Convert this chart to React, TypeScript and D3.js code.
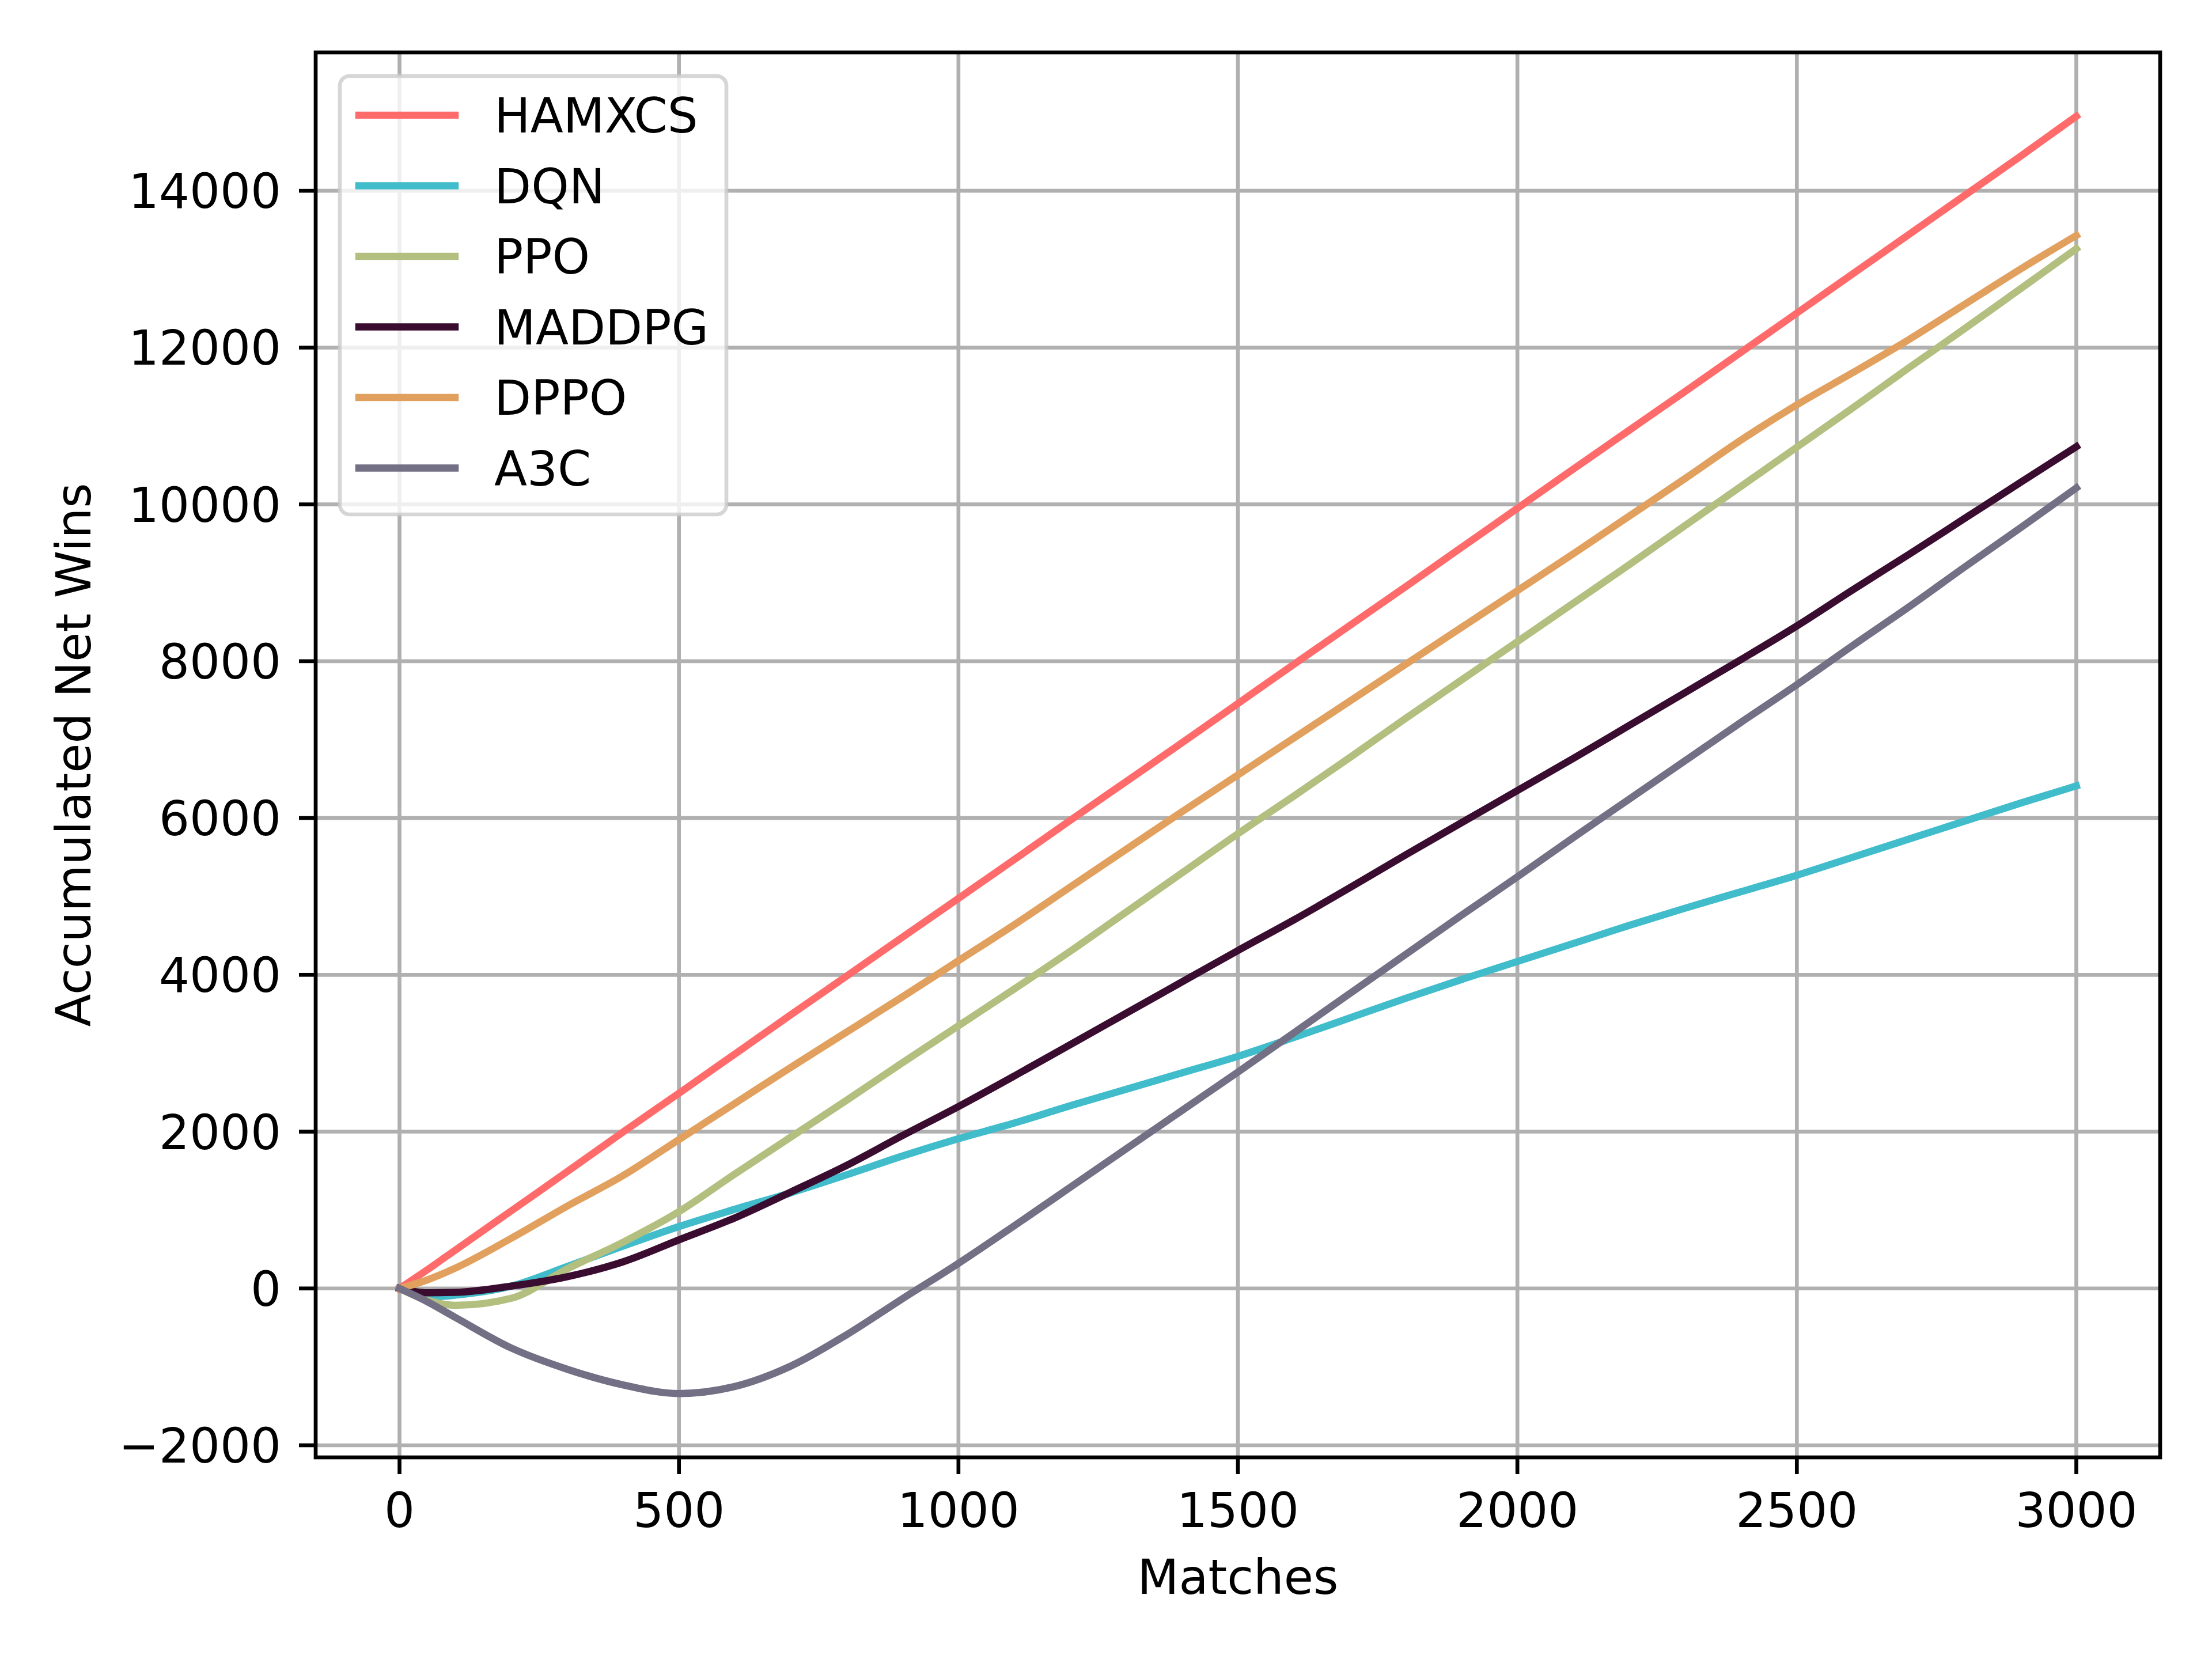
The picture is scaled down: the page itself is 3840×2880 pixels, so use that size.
import * as d3 from 'd3';
import { useEffect } from 'react';

const matches = [0, 50, 100, 200, 300, 400, 500, 600, 700, 800, 900, 1000, 1100, 1200, 1300, 1400, 1500, 1600, 1700, 1800, 1900, 2000, 2100, 2200, 2300, 2400, 2500, 2600, 2700, 2800, 2900, 3000];

const hamxcs = [0, 240, 490, 990, 1490, 1995, 2490, 2990, 3490, 3985, 4480, 4975, 5470, 5970, 6465, 6960, 7460, 7960, 8455, 8950, 9450, 9950, 10450, 10945, 11440, 11940, 12440, 12940, 13440, 13940, 14440, 14950];
const dqn = [0, -110, -85, 30, 280, 540, 790, 1010, 1220, 1450, 1690, 1910, 2110, 2330, 2540, 2750, 2960, 3200, 3450, 3700, 3940, 4170, 4400, 4630, 4850, 5060, 5270, 5500, 5730, 5960, 6190, 6410];
const ppo = [0, -150, -215, -125, 250, 590, 980, 1460, 1930, 2400, 2880, 3350, 3820, 4300, 4800, 5300, 5800, 6280, 6770, 7270, 7760, 8250, 8740, 9230, 9730, 10230, 10730, 11230, 11740, 12240, 12750, 13260];
const maddpg = [0, -55, -50, 30, 150, 340, 620, 900, 1230, 1570, 1950, 2320, 2710, 3110, 3510, 3910, 4310, 4700, 5110, 5530, 5940, 6350, 6760, 7180, 7600, 8020, 8450, 8910, 9360, 9820, 10280, 10736];
const dppo = [0, 110, 260, 640, 1050, 1440, 1900, 2360, 2820, 3270, 3720, 4180, 4640, 5120, 5600, 6080, 6550, 7020, 7490, 7960, 8430, 8900, 9370, 9850, 10330, 10820, 11270, 11680, 12100, 12550, 13000, 13430];
const a3c = [0, -170, -370, -760, -1030, -1230, -1340, -1250, -990, -590, -130, 320, 800, 1290, 1780, 2270, 2760, 3260, 3760, 4260, 4760, 5250, 5750, 6240, 6730, 7220, 7700, 8200, 8690, 9200, 9700, 10210];

const seriesNames = ['HAMXCS', 'DQN', 'PPO', 'MADDPG', 'DPPO', 'A3C'];
const seriesValues = [hamxcs, dqn, ppo, maddpg, dppo, a3c];
const seriesColors = ['#ff6b6b', '#40bcca', '#b2bf7f', '#3a0d30', '#e2a05e', '#736f84'];

const xTicks = [0, 500, 1000, 1500, 2000, 2500, 3000];
const yTicks = [-2000, 0, 2000, 4000, 6000, 8000, 10000, 12000, 14000];

const W = 3840;
const H = 2880;
const left = 548;
const right = 3750;
const top = 91;
const bottom = 2530;
const fs = 83.33;
const font = '"DejaVu Sans", sans-serif';

export default function App() {
  useEffect(() => {
    document.body.style.margin = '0';
  }, []);

  const x = d3.scaleLinear().domain([-150, 3150]).range([left, right]);
  const allVals = seriesValues.flat();
  const yMin = d3.min(allVals)!;
  const yMax = d3.max(allVals)!;
  const pad = (yMax - yMin) * 0.05;
  const y = d3.scaleLinear().domain([yMin - pad, yMax + pad]).range([bottom, top]);

  const line = d3
    .line<number>()
    .x((_, i) => x(matches[i]))
    .y((d) => y(d))
    .curve(d3.curveMonotoneX);

  const fmt = (v: number) => (v < 0 ? '\u2212' + Math.abs(v) : String(v));

  // legend layout
  const lgLeft = 590;
  const lgTop = 132;
  const lgW = 671;
  const lgH = 761;
  const rowY = (i: number) => 200 + i * 122.5;

  return (
    <svg width={W} height={H} style={{ display: 'block', background: '#fff' }} fontFamily={font}>
      <rect x={0} y={0} width={W} height={H} fill="#fff" />
      <defs>
        <clipPath id="plot">
          <rect x={left} y={top} width={right - left} height={bottom - top} />
        </clipPath>
      </defs>

      {/* grid */}
      <g stroke="#b0b0b0" strokeWidth={6.67}>
        {xTicks.map((t) => (
          <line key={'gx' + t} x1={x(t)} x2={x(t)} y1={top} y2={bottom} />
        ))}
        {yTicks.map((t) => (
          <line key={'gy' + t} x1={left} x2={right} y1={y(t)} y2={y(t)} />
        ))}
      </g>

      {/* series */}
      <g clipPath="url(#plot)" fill="none" strokeWidth={12.5} strokeLinejoin="round" strokeLinecap="square">
        {seriesValues.map((vals, i) => (
          <path key={seriesNames[i]} d={line(vals)!} stroke={seriesColors[i]} />
        ))}
      </g>

      {/* spines */}
      <rect x={left} y={top} width={right - left} height={bottom - top} fill="none" stroke="#000" strokeWidth={6.67} />

      {/* x axis ticks */}
      <g>
        {xTicks.map((t) => (
          <g key={'tx' + t}>
            <line x1={x(t)} x2={x(t)} y1={bottom} y2={bottom + 29} stroke="#000" strokeWidth={6.67} />
            <text x={x(t)} y={2651} fontSize={fs} textAnchor="middle" fill="#000">
              {fmt(t)}
            </text>
          </g>
        ))}
      </g>

      {/* y axis ticks */}
      <g>
        {yTicks.map((t) => (
          <g key={'ty' + t}>
            <line x1={left - 29} x2={left} y1={y(t)} y2={y(t)} stroke="#000" strokeWidth={6.67} />
            <text x={488} y={y(t) + 30} fontSize={fs} textAnchor="end" fill="#000">
              {fmt(t)}
            </text>
          </g>
        ))}
      </g>

      <text x={(left + right) / 2} y={2767} fontSize={fs} textAnchor="middle" fill="#000">
        Matches
      </text>
      <text
        transform={`translate(157, ${(top + bottom) / 2}) rotate(-90)`}
        fontSize={fs}
        textAnchor="middle"
        fill="#000"
      >
        Accumulated Net Wins
      </text>

      {/* legend */}
      <g>
        <rect
          x={lgLeft}
          y={lgTop}
          width={lgW}
          height={lgH}
          rx={16.7}
          fill="#fff"
          fillOpacity={0.8}
          stroke="#cccccc"
          strokeOpacity={0.8}
          strokeWidth={6.67}
        />
        {seriesNames.map((name, i) => (
          <g key={'lg' + name}>
            <line x1={623} x2={790} y1={rowY(i)} y2={rowY(i)} stroke={seriesColors[i]} strokeWidth={12.5} strokeLinecap="square" />
            <text x={858} y={rowY(i) + 30} fontSize={fs} fill="#000">
              {name}
            </text>
          </g>
        ))}
      </g>
    </svg>
  );
}
